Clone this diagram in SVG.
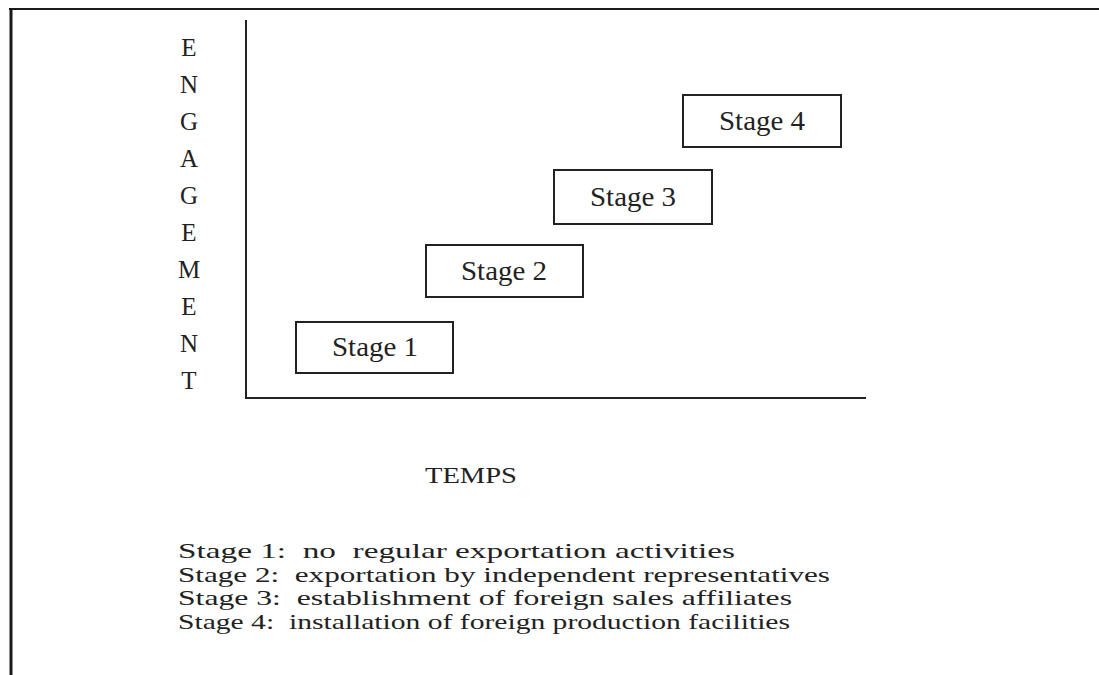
<svg xmlns="http://www.w3.org/2000/svg" width="1099" height="675" viewBox="0 0 1099 675">
<style>
.frame{stroke:#1a1a1a;fill:none}
.axis{stroke:#222;stroke-width:2;fill:none}
.box{fill:#fff;stroke:#222;stroke-width:2}
.t{font-family:"Liberation Serif","Times New Roman",serif;fill:#222}
.lbl{font-size:27px;text-anchor:middle}
.vl{font-size:25px;text-anchor:middle}
.leg{font-size:22px}
</style>
<rect width="1099" height="675" fill="#fff"/>
<g id="frame">
<line class="frame" x1="9" y1="9" x2="1099" y2="9" stroke-width="2"/>
<line class="frame" x1="11" y1="8" x2="11" y2="675" stroke-width="3"/>
</g>
<g id="connectors">
<line class="axis" x1="246" y1="20" x2="246" y2="398"/>
<line class="axis" x1="245" y1="398" x2="866" y2="398"/>
</g>
<g id="yaxis-label" class="t vl">
<text x="189" y="56">E</text>
<text x="189" y="93">N</text>
<text x="189" y="130">G</text>
<text x="189" y="167">A</text>
<text x="189" y="204">G</text>
<text x="189" y="241">E</text>
<text x="189" y="278">M</text>
<text x="189" y="315">E</text>
<text x="189" y="352">N</text>
<text x="189" y="389">T</text>
</g>
<g id="stage1">
<rect class="box" x="296" y="322" width="157" height="51"/>
<text class="t lbl" x="375" y="356" textLength="86" lengthAdjust="spacingAndGlyphs">Stage 1</text>
</g>
<g id="stage2">
<rect class="box" x="426" y="245" width="157" height="52"/>
<text class="t lbl" x="504" y="280" textLength="86" lengthAdjust="spacingAndGlyphs">Stage 2</text>
</g>
<g id="stage3">
<rect class="box" x="554" y="170" width="158" height="54"/>
<text class="t lbl" x="633" y="206" textLength="86" lengthAdjust="spacingAndGlyphs">Stage 3</text>
</g>
<g id="stage4">
<rect class="box" x="683" y="95" width="158" height="52"/>
<text class="t lbl" x="762" y="130" textLength="86" lengthAdjust="spacingAndGlyphs">Stage 4</text>
</g>
<g id="xaxis-label">
<text class="t" x="425" y="483" font-size="24" textLength="92" lengthAdjust="spacingAndGlyphs">TEMPS</text>
</g>
<g id="legend" class="t leg">
<text x="178" y="558" textLength="557" lengthAdjust="spacingAndGlyphs" xml:space="preserve">Stage 1:  no  regular exportation activities</text>
<text x="178" y="581.5" textLength="652" lengthAdjust="spacingAndGlyphs" xml:space="preserve">Stage 2:  exportation by independent representatives</text>
<text x="178" y="605" textLength="614" lengthAdjust="spacingAndGlyphs" xml:space="preserve">Stage 3:  establishment of foreign sales affiliates</text>
<text x="178" y="628.5" textLength="612" lengthAdjust="spacingAndGlyphs" xml:space="preserve">Stage 4:  installation of foreign production facilities</text>
</g>
</svg>
